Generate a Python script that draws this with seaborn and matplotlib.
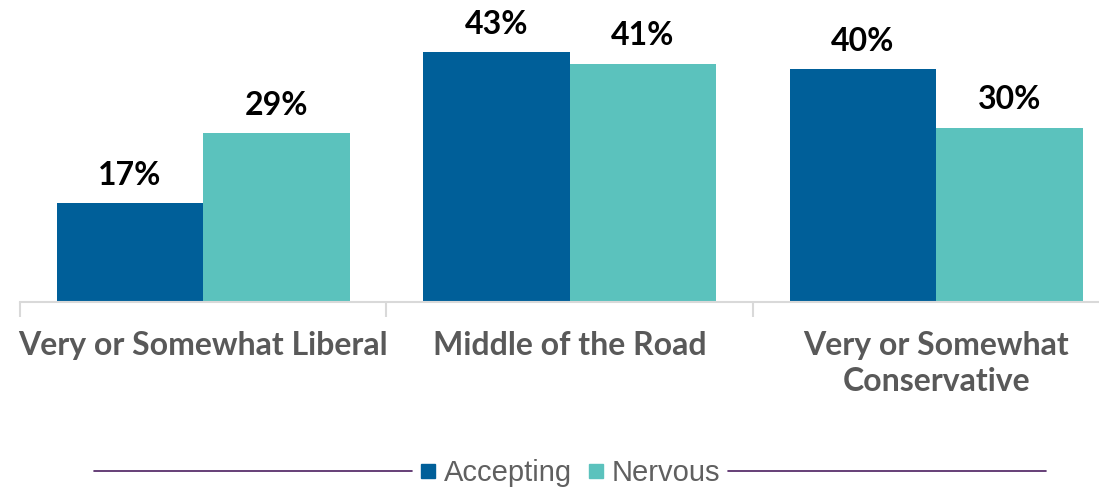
import matplotlib
matplotlib.use("Agg")
import matplotlib.pyplot as plt
from matplotlib.lines import Line2D
import seaborn as sns
import pandas as pd

categories = ["Very or Somewhat Liberal", "Middle of the Road", "Very or Somewhat\nConservative"]
series = ["Accepting", "Nervous"]
accepting = [17, 43, 40]
nervous = [29, 41, 30]
colors = ["#005F99", "#5BC2BD"]

df = pd.DataFrame({
    "category": categories * 2,
    "group": [series[0]] * 3 + [series[1]] * 3,
    "value": accepting + nervous,
})

sns.set_theme(style="white")
plt.rcParams["font.family"] = ["Lato", "DejaVu Sans"]

W, H = 1099, 490
fig = plt.figure(figsize=(W / 100, H / 100), dpi=100)
ax = fig.add_axes([20 / W, 188 / H, 1099.5 / W, 302 / H])

sns.barplot(data=df, x="category", y="value", hue="group", palette=colors,
            width=0.8, gap=0, saturation=1, linewidth=0, ax=ax, legend=False,
            order=categories, hue_order=series)

ax.set_xlim(-0.5, 2.5)
ax.set_ylim(0, 302 / 5.814)
ax.set_xlabel("")
ax.set_ylabel("")
ax.set_yticks([])

for c in ax.containers:
    ax.bar_label(c, labels=[f"{v:.0f}%" for v in c.datavalues], padding=9.5,
                 fontsize=23, fontweight="bold", color="black")

for s in ["top", "right", "left"]:
    ax.spines[s].set_visible(False)
ax.spines["bottom"].set_color("#D9D9D9")
ax.spines["bottom"].set_linewidth(1.5)

ax.set_xticks([0, 1, 2])
ax.set_xticklabels(categories, fontsize=23, fontweight="bold", color="#595959",
                   linespacing=1.3)
ax.set_xticks([-0.5, 0.5, 1.5, 2.5], minor=True)
ax.tick_params(axis="x", which="major", length=0, pad=21)
ax.tick_params(axis="x", which="minor", length=11, width=1.5, color="#D9D9D9",
               bottom=True)

handles = [Line2D([], [], marker="s", linestyle="", markersize=10.5, color=col)
           for col in colors]
leg = fig.legend(handles, series, loc="center", bbox_to_anchor=(570 / W, 1 - 473 / H),
                 ncol=2, frameon=False, handlelength=0.6, handletextpad=0.25,
                 columnspacing=0.5,
                 prop={"family": "Liberation Sans", "size": 21})
for t in leg.get_texts():
    t.set_color("#606060")

ly = 1 - 471 / H
for x0, x1 in [(94, 412), (728, 1046)]:
    fig.add_artist(Line2D([x0 / W, x1 / W], [ly, ly], color="#4B1F60", linewidth=1.2,
                          transform=fig.transFigure))

fig.savefig("out.png", dpi=100)
